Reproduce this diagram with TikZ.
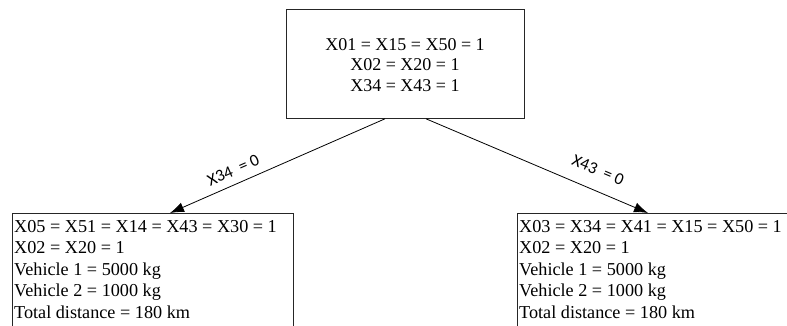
\documentclass[tikz,border=0pt]{standalone}
\usepackage{fontspec}
\setmainfont{Liberation Serif}
\newfontfamily\labelfont{Carlito}
\usetikzlibrary{arrows.meta,calc}
\tikzset{
  box/.style={draw=black!85, line width=0.8pt, rectangle, inner sep=0pt},
  boxtext/.style={font=\fontsize{18.2}{21.5}\selectfont, inner sep=0pt},
  branch/.style={line width=0.8pt, -{Latex[length=14pt,width=10pt]}},
  cut/.style={font=\labelfont\fontsize{17}{17}\selectfont, sloped, inner sep=0pt}
}
\begin{document}
\begin{tikzpicture}[x=1pt,y=1pt]
\useasboundingbox (0,0) rectangle (787,-326);
\clip (0,0) rectangle (787,-326);

% root node of the branching tree
\node[box, minimum width=238pt, minimum height=109pt, anchor=north west] (root) at (286,-9) {};
\node[boxtext, align=center, font=\fontsize{18}{20.5}\selectfont] (roottxt) at (405,-65)
  {X01 = X15 = X50 = 1\\X02 = X20 = 1\\X34 = X43 = 1};

% left child
\node[box, minimum width=281pt, minimum height=140pt, anchor=north west] (left) at (12,-213) {};
\node[boxtext, align=left, anchor=north west] (lefttxt) at (14,-220)
  {X05 = X51 = X14 = X43 = X30 = 1\\X02 = X20 = 1\\Vehicle 1 = 5000 kg\\Vehicle 2 = 1000 kg\\Total distance = 180 km};

% right child
\node[box, minimum width=290pt, minimum height=140pt, anchor=north west] (right) at (517,-213) {};
\node[boxtext, align=left, anchor=north west] (righttxt) at (519,-220)
  {X03 = X34 = X41 = X15 = X50 = 1\\X02 = X20 = 1\\Vehicle 1 = 5000 kg\\Vehicle 2 = 1000 kg\\Total distance = 180 km};

% branches
\coordinate (lstart) at ($(root.south west)+(99,0)$);
\coordinate (lend) at ($(left.north west)+(158,0)$);
\coordinate (rstart) at ($(root.south west)+(140,0)$);
\coordinate (rend) at ($(right.north west)+(131,0)$);
\draw[branch] (lstart) -- node[cut, pos=0.68, above=8pt] (llab) {X34\ \ = 0} (lend);
\draw[branch] (rstart) -- node[cut, pos=0.74, above=14pt] (rlab) {X43\ \ = 0} (rend);
\end{tikzpicture}
\end{document}
